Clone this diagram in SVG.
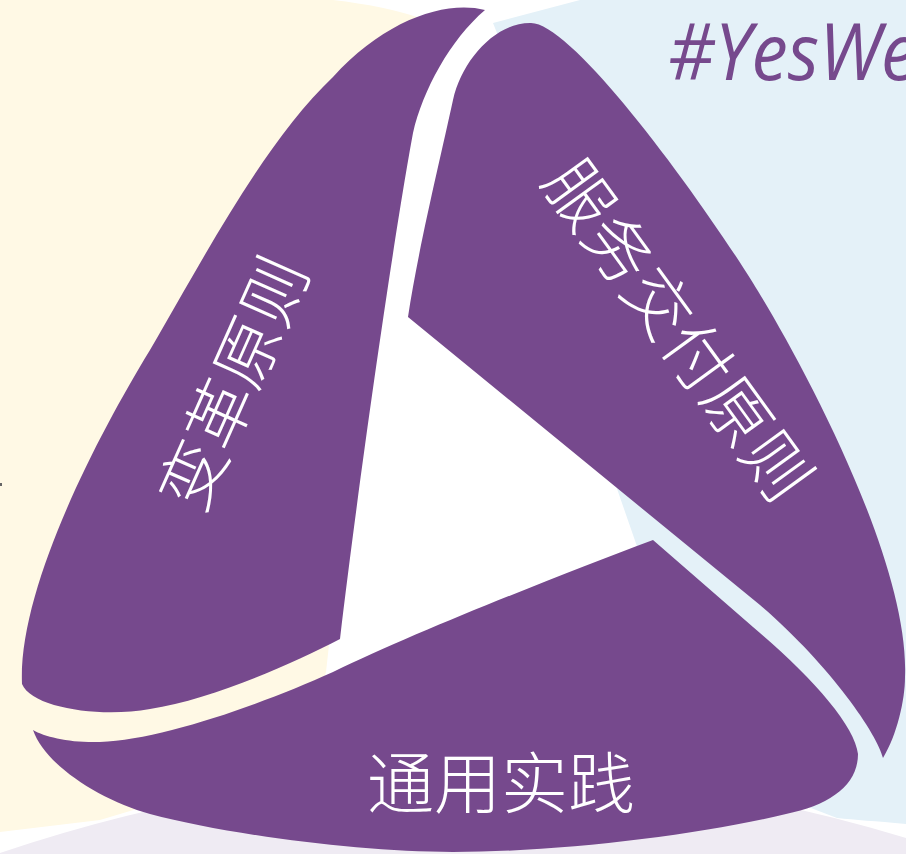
<svg xmlns="http://www.w3.org/2000/svg" width="906" height="854" viewBox="0 0 906 854">
<style>
.petal{fill:#76498D}
.lbl{fill:#FFFFFF;font-family:"Noto Sans CJK SC","Noto Sans CJK TC",sans-serif;font-weight:300;font-size:67px;text-anchor:middle;dominant-baseline:central}
.tag{fill:#76498D;font-family:"Open Sans","Noto Sans",sans-serif;font-style:italic;font-size:79px}
</style>
<defs>
<path id="lav" d="M0,853 Q453,700 906,838 L906,854 L0,854 Z"/>
<path id="yel" d="M0,0 L333,0 Q385,6 420,18 L380,120 L330,400 L322,600 L329,645 L326,672 L300,760 L100,820 L0,832 Z"/>
<path id="blu" d="M493,23 L580,0 L906,0 L906,824 C875,821 855,820 837,818 L790,800 L700,660 L640,555 L615,483 C600,440 560,330 530,200 C515,130 500,70 497,33 Z"/>
<clipPath id="cy"><use href="#yel"/></clipPath>
<clipPath id="cb"><use href="#blu"/></clipPath>
</defs>
<g id="background">
<rect x="0" y="0" width="906" height="854" fill="#FFFFFF"/>
<use href="#yel" fill="#FFF9E5"/>
<use href="#blu" fill="#E4F1F8"/>
<use href="#lav" fill="#EFEBF3"/>
<use href="#lav" fill="#EFE6DA" clip-path="url(#cy)"/>
<use href="#lav" fill="#DCE6EE" clip-path="url(#cb)"/>
<rect x="0" y="483" width="2" height="3" fill="#666666"/>
</g>
<g id="connectors"></g>
<g id="node-change">
<path class="petal" d="M485,10 C445,0 385,20 333,77 C263,143 200,265 150,350 C95,440 18,590 22,684 C32,708 100,718 150,709 C210,700 290,665 340,639 C360,470 395,230 413,133 C423,90 450,40 485,10 Z"/>
<text class="lbl" transform="translate(229,381) rotate(-66)" x="0" y="0">变革原则</text>
</g>
<g id="node-service">
<path class="petal" d="M408,317 C418,250 440,160 453,100 C462,60 495,23 530,23 C570,20 695,190 753,283 C798,355 910,560 905,677 C905,700 897,735 883,758 C878,735 830,665 760,605 Z"/>
<text class="lbl" transform="translate(682,327) rotate(54)" x="0" y="0">服务交付原则</text>
</g>
<g id="node-practice">
<path class="petal" d="M653,540 C560,575 420,630 333,672 C260,705 160,740 100,742 C70,743 45,737 33,730 C45,765 100,800 150,814 C230,835 360,852 453,852 C560,852 700,835 786,814 C830,805 858,785 858,754 C855,725 810,675 753,627 Z"/>
<text class="lbl" x="501" y="778">通用实践</text>
</g>
<g id="tag">
<text class="tag" transform="translate(668,80) scale(0.92,1)" x="0" y="0">#YesWe</text>
</g>
</svg>
